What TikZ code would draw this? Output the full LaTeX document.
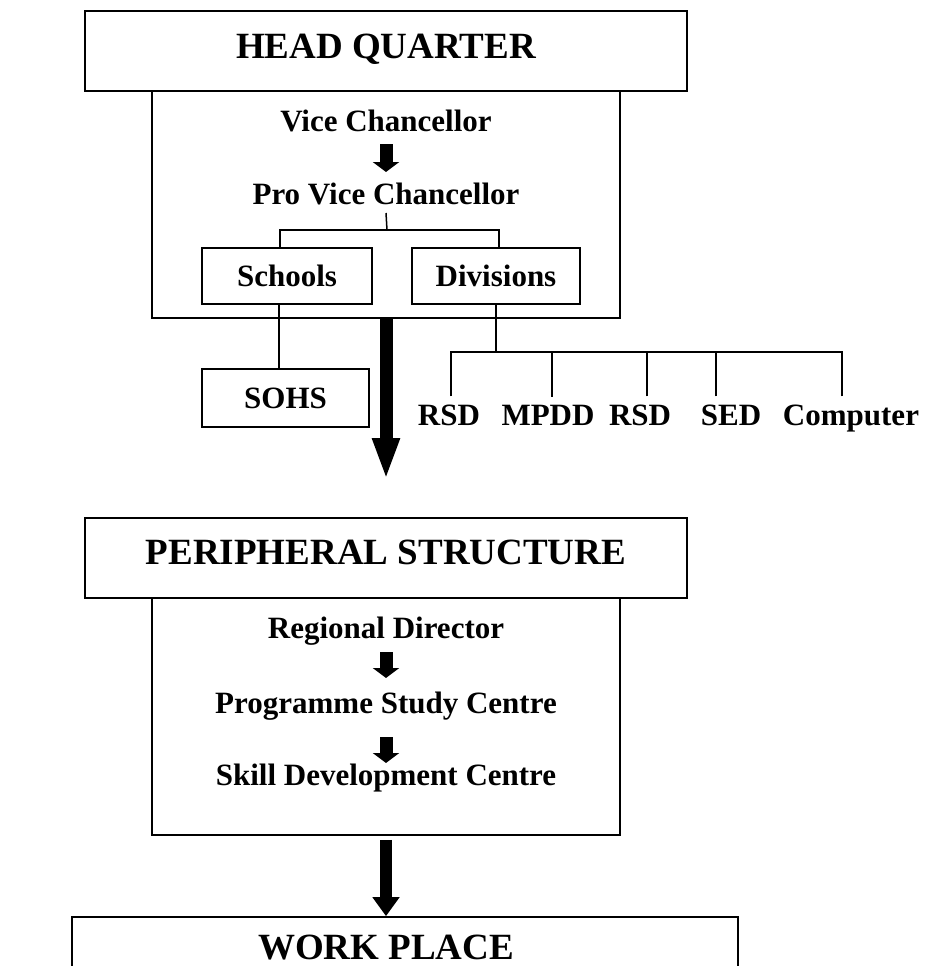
\documentclass[tikz,border=0pt]{standalone}
\usepackage{fontspec}
\setmainfont{Liberation Serif}
\usetikzlibrary{arrows.meta,calc}
\begin{document}
\begin{tikzpicture}[x=1pt,y=-1pt,
  boxed/.style={draw, line width=1.7pt, inner sep=0pt},
  htext/.style={font=\bfseries\fontsize{37pt}{40pt}\selectfont, inner sep=0pt, anchor=base},
  btext/.style={font=\bfseries\fontsize{31pt}{34pt}\selectfont, inner sep=0pt, anchor=base},
  ubox/.style={boxed, font=\bfseries\fontsize{31pt}{34pt}\selectfont},
  link/.style={line width=1.5pt},
  smallarr/.style={line width=13pt, -{Triangle[width=26pt,length=10pt]}},
  bigarr/.style={line width=13pt, -{Triangle[width=25pt,length=42pt]}},
  lowarr/.style={line width=12pt, -{Triangle[width=26pt,length=19pt]}}
]
\useasboundingbox (0,0) rectangle (927,966);
\clip (0,0) rectangle (927,966);

% ---------- HEAD QUARTER ----------
\node[boxed, minimum width=602pt, minimum height=80pt] (hq) at (386,51) {};
\node[htext] (hqt) at (386,59) {HEAD QUARTER};
\node[boxed, minimum width=468pt, minimum height=227pt] (hqin) at (386,204.5) {};

\node[btext] (vc) at (386,131) {Vice Chancellor};
\node[btext] (pvc) at (386,204) {Pro Vice Chancellor};
\draw[smallarr] ([yshift=-13pt]vc.base) -- ([yshift=32pt]pvc.base);

\node[ubox, minimum width=170pt, minimum height=56pt] (schools) at (287,276) {Schools};
\node[ubox, minimum width=168pt, minimum height=56pt] (divs) at (496,276) {Divisions};
\coordinate (pvcj) at (387,230);
\draw[link] ([yshift=-9pt]pvc.base) -- (pvcj);
\draw[link] ([xshift=-7pt]schools.north) |- (pvcj);
\draw[link] ([xshift=3pt]divs.north) |- (pvcj);

\node[ubox, minimum width=167pt, minimum height=58pt] (sohs) at (285.5,398) {SOHS};
\draw[link] ($(schools.south)+(-8,0)$) -- ($(sohs.north)+(-6.5,0)$);

% division units
\node[btext] (rsda) at (449,425) {RSD};
\node[btext] (mpdd) at (548,425) {MPDD};
\node[btext] (rsdb) at (640,425) {RSD};
\node[btext] (sed) at (731,425) {SED};
\node[btext] (comp) at (851,425) {Computer};
\coordinate (dj) at (496,352);
\draw[link] (divs.south) -- (dj);
\foreach \n/\dx in {rsda/2, mpdd/4, rsdb/7, sed/-15, comp/-9}
  \draw[link] ([xshift=\dx pt, yshift=8pt]\n.north) |- (dj);

% big arrow
\coordinate (a1) at (386,480);
\draw[bigarr] (hqin.south) -- (a1);

% ---------- PERIPHERAL STRUCTURE ----------
\node[boxed, minimum width=602pt, minimum height=80pt] (ps) at (386,558) {};
\node[htext] (pst) at (386,564) {PERIPHERAL STRUCTURE};
\node[boxed, minimum width=468pt, minimum height=237pt] (psin) at (386,716.5) {};

\node[btext] (rd) at (386,638) {Regional Director};
\node[btext] (psc) at (386,713) {Programme Study Centre};
\node[btext] (sdc) at (386,785) {Skill Development Centre};
\draw[smallarr] ([yshift=-14pt]rd.base) -- ([yshift=35pt]psc.base);
\draw[smallarr] ([yshift=-24pt]psc.base) -- ([yshift=22pt]sdc.base);

% ---------- WORK PLACE ----------
\node[boxed, minimum width=666pt, minimum height=100pt] (wp) at (405,967) {};
\node[htext] (wpt) at (386,959) {WORK PLACE};
\draw[lowarr] ([yshift=-4pt]psin.south) -- (psin.south |- wp.north);
\end{tikzpicture}
\end{document}
